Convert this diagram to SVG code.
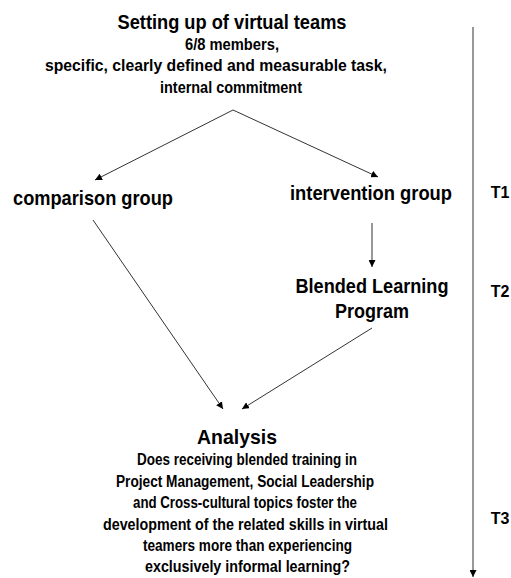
<svg xmlns="http://www.w3.org/2000/svg" width="511" height="578" viewBox="0 0 511 578">
<defs>
<marker id="ah" viewBox="0 0 10 10" refX="10" refY="5" markerWidth="7" markerHeight="7" markerUnits="userSpaceOnUse" orient="auto">
<path d="M0,0 L10,5 L0,10 Z" fill="#000"/>
</marker>
<style>
text{font-family:"Liberation Sans",Arial,sans-serif;font-weight:bold;fill:#000;text-anchor:middle}
.h{font-size:21px}
.b{font-size:16px}
.c{stroke:#333;stroke-width:1;fill:none;marker-end:url(#ah)}
</style>
</defs>
<rect width="511" height="578" fill="#fff"/>
<g id="connectors">
<line class="c" x1="233" y1="110" x2="95" y2="180"/>
<line class="c" x1="233" y1="110" x2="378" y2="177"/>
<line class="c" x1="372" y1="223" x2="372" y2="267"/>
<line class="c" x1="93" y1="220" x2="223" y2="409"/>
<line class="c" x1="372" y1="328" x2="242" y2="409"/>
<line class="c" x1="473" y1="27" x2="473" y2="577"/>
</g>
<g id="setup">
<text class="h" x="232" y="29" textLength="229" lengthAdjust="spacingAndGlyphs">Setting up of virtual teams</text>
<text class="b" x="232" y="50" textLength="94" lengthAdjust="spacingAndGlyphs">6/8 members,</text>
<text class="b" x="216" y="71" textLength="342" lengthAdjust="spacingAndGlyphs">specific, clearly defined and measurable task,</text>
<text class="b" x="231" y="93" textLength="142" lengthAdjust="spacingAndGlyphs">internal commitment</text>
</g>
<g id="comparison">
<text class="h" x="93" y="205" textLength="160" lengthAdjust="spacingAndGlyphs">comparison group</text>
</g>
<g id="intervention">
<text class="h" x="371" y="200" textLength="162" lengthAdjust="spacingAndGlyphs">intervention group</text>
</g>
<g id="blended">
<text class="h" x="372" y="293" textLength="153" lengthAdjust="spacingAndGlyphs">Blended Learning</text>
<text class="h" x="372" y="318" textLength="74" lengthAdjust="spacingAndGlyphs">Program</text>
</g>
<g id="analysis">
<text class="h" x="237" y="444" textLength="80" lengthAdjust="spacingAndGlyphs">Analysis</text>
<text class="b" x="247" y="465" textLength="220" lengthAdjust="spacingAndGlyphs">Does receiving blended training in</text>
<text class="b" x="245" y="487" textLength="258" lengthAdjust="spacingAndGlyphs">Project Management, Social Leadership</text>
<text class="b" x="245" y="508" textLength="224" lengthAdjust="spacingAndGlyphs">and Cross-cultural topics foster the</text>
<text class="b" x="245.5" y="530" textLength="285" lengthAdjust="spacingAndGlyphs">development of the related skills in virtual</text>
<text class="b" x="247.5" y="551" textLength="209" lengthAdjust="spacingAndGlyphs">teamers more than experiencing</text>
<text class="b" x="247.5" y="572" textLength="205" lengthAdjust="spacingAndGlyphs">exclusively informal learning?</text>
</g>
<g id="timeline">
<text class="b" x="500" y="198">T1</text>
<text class="b" x="500" y="297">T2</text>
<text class="b" x="500" y="524">T3</text>
</g>
</svg>
